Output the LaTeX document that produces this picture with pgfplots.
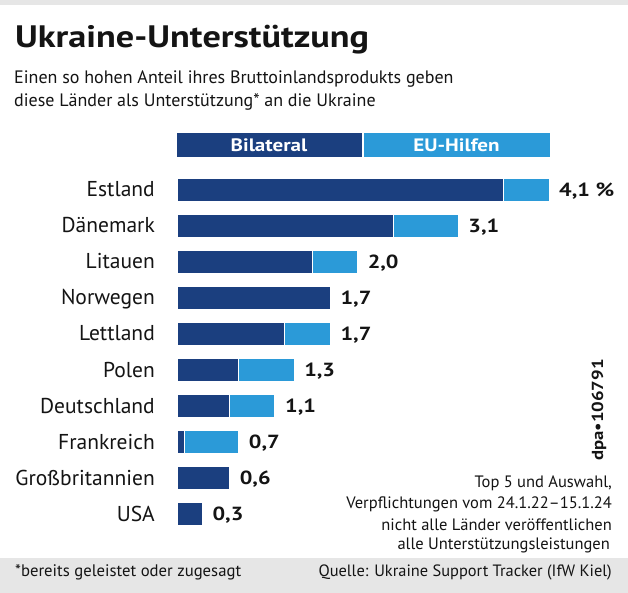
\documentclass[border=0pt]{standalone}
\usepackage{fontspec}
\setmainfont{PT Sans}
\newfontfamily\bff[FakeStretch=1.17]{PT Sans Bold}
\usepackage{pgfplots}
\usepackage{pgfplotstable}
\pgfplotsset{compat=1.18}
\definecolor{dpadark}{HTML}{1B3F7F}
\definecolor{dpalight}{HTML}{2B9AD8}
\definecolor{dpagrey}{HTML}{E6E6E6}
\definecolor{txt}{HTML}{141414}
\newcommand{\fs}[1]{\fontsize{#1bp}{#1bp}\selectfont}

\pgfplotstableread{
idx bil eu total label
0 3.60 0.50 4.10 {4,1~\%}
1 2.39 0.71 3.10 {3,1}
2 1.49 0.50 1.99 {2,0}
3 1.69 0.00 1.69 {1,7}
4 1.19 0.50 1.69 {1,7}
5 0.68 0.61 1.29 {1,3}
6 0.58 0.50 1.08 {1,1}
7 0.08 0.60 0.68 {0,7}
8 0.58 0.00 0.58 {0,6}
9 0.28 0.00 0.28 {0,3}
}\datatable

\pgfplotsset{
  chartframe/.style={
    at={(177bp,61bp)}, anchor=south west,
    scale only axis, width=372bp, height=360.5bp,
    xmin=0, xmax=4.1, ymin=-0.5, ymax=9.5, y dir=reverse,
    clip=false,
  }
}

\begin{document}
\begin{tikzpicture}[x=1bp,y=1bp]
\path[use as bounding box, fill=white] (0,0) rectangle (628,593);
\fill[dpagrey] (0,588) rectangle (628,593);
\fill[dpagrey] (0,0) rectangle (628,35);

\node[anchor=base west, inner sep=0pt, text=txt, font=\bff\fs{31}] at (15,545) {Ukraine-Unterstützung};
\node[anchor=base west, inner sep=0pt, text=txt, font=\fs{18}] at (14,509) {Einen so hohen Anteil ihres Bruttoinlandsprodukts geben};
\node[anchor=base west, inner sep=0pt, text=txt, font=\fs{18}] at (14,486) {diese Länder als Unterstützung* an die Ukraine};

\fill[dpadark] (177,436) rectangle (361.5,460);
\fill[dpalight] (363.5,436) rectangle (550,460);
\node[font=\bff\fs{18}, text=white, inner sep=0pt, text height=12.6bp, text depth=0pt] at (269,448) {Bilateral};
\node[font=\bff\fs{18}, text=white, inner sep=0pt, text height=12.6bp, text depth=0pt] at (456.5,448) {EU-Hilfen};

\begin{axis}[
  chartframe,
  xbar stacked, bar width=23bp,
  axis line style={draw=none}, tick style={draw=none},
  xtick=\empty,
  ytick={0,...,9},
  yticklabels={Estland,Dänemark,Litauen,Norwegen,Lettland,Polen,Deutschland,Frankreich,Großbritannien,USA},
  yticklabel style={font=\fs{21.5}, text=txt, anchor=east, inner sep=0pt, text height=14.5bp, text depth=0pt, xshift=-22bp},
]
\addplot[fill=dpadark, draw=white, line width=1bp] table[x=bil, y=idx] {\datatable};
\addplot[fill=dpalight, draw=white, line width=1bp] table[x=eu, y=idx] {\datatable};
\end{axis}

\begin{axis}[chartframe, hide axis]
\addplot[draw=none, mark=none, nodes near coords, point meta=explicit symbolic,
  every node near coord/.style={font=\bff\fs{19}, text=txt, anchor=west, inner sep=0pt, text height=13.3bp, text depth=0pt, xshift=10bp}]
  table[x=total, y=idx, meta=label] {\datatable};
\end{axis}

\node[anchor=base east, inner sep=0pt, text=txt, font=\fs{16.5}] at (612,105) {Top 5 und Auswahl,};
\node[anchor=base east, inner sep=0pt, text=txt, font=\fs{16.5}] at (612,84) {Verpflichtungen vom 24.1.22–15.1.24};
\node[anchor=base east, inner sep=0pt, text=txt, font=\fs{16.5}] at (612,62) {nicht alle Länder veröffentlichen};
\node[anchor=base east, inner sep=0pt, text=txt, font=\fs{16.5}] at (610,43) {alle Unterstützungsleistungen};

\node[rotate=90, inner sep=0pt, text=txt, font=\bff\fs{16}] at (599,183) {dpa•106791};

\node[anchor=base west, inner sep=0pt, text=txt, font=\fs{16.7}] at (15,16) {*bereits geleistet oder zugesagt};
\node[anchor=base east, inner sep=0pt, text=txt, font=\fs{16.4}] at (612,16) {Quelle: Ukraine Support Tracker (IfW Kiel)};
\end{tikzpicture}
\end{document}
